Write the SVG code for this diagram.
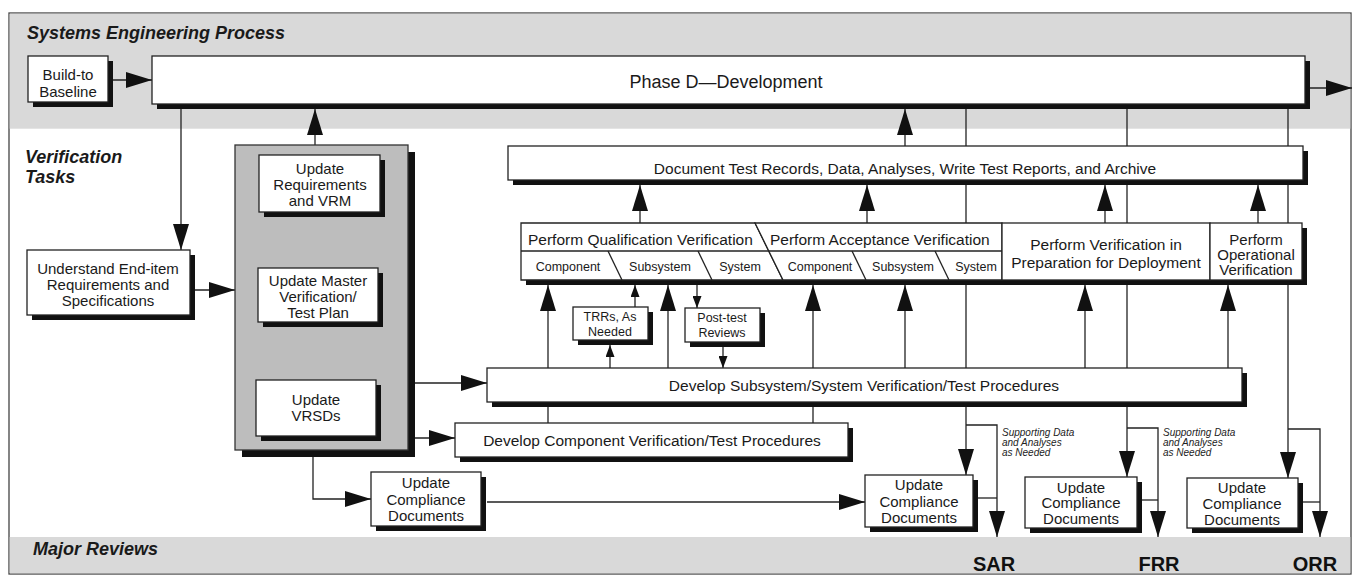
<svg xmlns="http://www.w3.org/2000/svg" width="1357" height="577" viewBox="0 0 1357 577">
<defs>
<marker id="big" markerUnits="userSpaceOnUse" markerWidth="26" markerHeight="16" refX="26" refY="8" orient="auto"><path d="M0,0 L26,8 L0,16 z" fill="#111"/></marker>
<marker id="sm" markerUnits="userSpaceOnUse" markerWidth="12" markerHeight="9" refX="12" refY="4.5" orient="auto-start-reverse"><path d="M0,0 L12,4.5 L0,9 z" fill="#111"/></marker>
<style>
.ln{fill:none;stroke:#222;stroke-width:1.3}
.ar{marker-end:url(#big)}
.as{marker-end:url(#sm)}
.ad{marker-start:url(#sm);marker-end:url(#sm)}
.bx{fill:#fff;stroke:#222;stroke-width:1.3}
.sh{fill:#111}
.t{font-family:"Liberation Sans",Arial,Helvetica,sans-serif;font-size:15px;fill:#1a1a1a;text-anchor:middle}
.m{font-size:15.5px}
.s{font-size:12.5px}
.st{text-anchor:start}
.h{font-family:"Liberation Sans",Arial,sans-serif;font-weight:bold;font-style:italic;font-size:18px;fill:#1a1a1a}
.it{font-family:"Liberation Sans",Arial,sans-serif;font-style:italic;font-size:10px;fill:#222}
.vp{font-family:"Liberation Sans",Arial,sans-serif;font-style:italic;font-size:12px;fill:#222;text-anchor:end}
.rv{font-family:"Liberation Sans",Arial,sans-serif;font-weight:bold;font-size:20px;fill:#111;text-anchor:middle}
</style>
</defs>
<rect x="0" y="0" width="1357" height="577" fill="#fff"/>
<g id="frame">
<rect x="9" y="13" width="1342" height="561" fill="#fff" stroke="#444" stroke-width="1.3"/>
<rect x="9.7" y="13.7" width="1340.6" height="115" fill="#d9d9d9"/>
<rect x="9.7" y="537" width="1340.6" height="36.3" fill="#d9d9d9"/>
<text class="h" x="27" y="39">Systems Engineering Process</text>
<text class="h" x="25" y="163">Verification</text>
<text class="h" x="25" y="183">Tasks</text>
<text class="h" x="33" y="555">Major Reviews</text>
</g>
<g id="connectors">
<path class="ln ar" d="M113,80 H152"/>
<path class="ln ar" d="M1310,88 H1352"/>
<path class="ln ar" d="M181,109 V250"/>
<path class="ln ar" d="M315,145 V109"/>
<path class="ln ar" d="M195,290 H235"/>
<path class="ln ad" d="M313,217 V268"/>
<path class="ln ad" d="M313,327 V380"/>
<path class="ln ar" d="M415,383 H487"/>
<path class="ln ar" d="M415,438 H455"/>
<path class="ln ar" d="M313,457 V499 H371"/>
<path class="ln ar" d="M487,502 H865"/>
<path class="ln ar" d="M905,146 V109"/>
<path class="ln ar" d="M640,223 V185"/>
<path class="ln ar" d="M867,223 V185"/>
<path class="ln ar" d="M1105,223 V185"/>
<path class="ln ar" d="M1258,223 V185"/>
<path class="ln ar" d="M548,423 V285"/>
<path class="ln ar" d="M668,368 V285"/>
<path class="ln ar" d="M813,423 V285"/>
<path class="ln ar" d="M905,368 V285"/>
<path class="ln ar" d="M1085,368 V285"/>
<path class="ln ar" d="M1228,368 V285"/>
<path class="ln as" d="M635,307 V285"/>
<path class="ln as" d="M610,368 V345"/>
<path class="ln as" d="M697,285 V308"/>
<path class="ln as" d="M723,347 V368"/>
<path class="ln ar" d="M966,109 V475"/>
<path class="ln ar" d="M1127,109 V477"/>
<path class="ln ar" d="M1288,109 V478"/>
<path class="ln ar" d="M966,425 H997 V537"/>
<path class="ln ar" d="M1127,428 H1158 V537"/>
<path class="ln ar" d="M1288,429 H1320 V537"/>
<path class="ln" d="M978,498 H997"/>
<path class="ln" d="M1142,500 H1158"/>
<path class="ln" d="M1303,502 H1320"/>
<text class="it" x="1002" y="436">Supporting Data</text>
<text class="it" x="1002" y="446">and Analyses</text>
<text class="it" x="1002" y="456">as Needed</text>
<text class="it" x="1163" y="436">Supporting Data</text>
<text class="it" x="1163" y="446">and Analyses</text>
<text class="it" x="1163" y="456">as Needed</text>
<text class="vp" x="306" y="240">Verification</text>
<text class="vp" x="306" y="253">Planning</text>
</g>
<g id="build-to-baseline">
<rect class="sh" x="33" y="61" width="80" height="46"/>
<rect class="bx" x="28" y="56" width="80" height="46"/>
<text class="t" x="68" y="80">Build-to</text>
<text class="t" x="68" y="97">Baseline</text>
</g>
<g id="phase-d">
<rect class="sh" x="157" y="61" width="1153" height="48"/>
<rect class="bx" x="152" y="56" width="1153" height="48"/>
<text class="t" x="726" y="88" style="font-size:18px">Phase D—Development</text>
</g>
<g id="document-test-records">
<rect class="sh" x="513" y="151" width="795" height="34"/>
<rect class="bx" x="508" y="146" width="795" height="34"/>
<text class="t m" x="905" y="174">Document Test Records, Data, Analyses, Write Test Reports, and Archive</text>
</g>
<g id="understand-end-item">
<rect class="sh" x="32" y="255" width="163" height="65"/>
<rect class="bx" x="27" y="250" width="163" height="65"/>
<text class="t" x="108" y="274">Understand End-item</text>
<text class="t" x="108" y="290">Requirements and</text>
<text class="t" x="108" y="306">Specifications</text>
</g>
<g id="verification-planning">
<rect class="sh" x="242" y="152" width="173" height="305"/>
<rect x="235" y="145" width="173" height="305" fill="#bdbdbd" stroke="#333" stroke-width="1.3"/>
</g>
<g id="update-requirements-vrm">
<rect class="sh" x="264" y="160" width="121" height="57"/>
<rect class="bx" x="259" y="155" width="121" height="57"/>
<text class="t" x="320" y="174">Update</text>
<text class="t" x="320" y="190">Requirements</text>
<text class="t" x="320" y="206">and VRM</text>
</g>
<g id="update-master-plan">
<rect class="sh" x="263" y="273" width="120" height="54"/>
<rect class="bx" x="258" y="268" width="120" height="54"/>
<text class="t" x="318" y="286">Update Master</text>
<text class="t" x="318" y="302">Verification/</text>
<text class="t" x="318" y="318">Test Plan</text>
</g>
<g id="update-vrsds">
<rect class="sh" x="261" y="385" width="120" height="56"/>
<rect class="bx" x="256" y="380" width="120" height="56"/>
<text class="t" x="316" y="405">Update</text>
<text class="t" x="316" y="421">VRSDs</text>
</g>
<g id="row-shadow">
<rect class="sh" x="526" y="228" width="781" height="57"/>
</g>
<g id="perform-qualification">
<polygon class="bx" points="521,223 755,223 783,280 521,280"/>
<line class="ln" x1="521" y1="251" x2="769" y2="251"/>
<line class="ln" x1="608" y1="251" x2="622" y2="280"/>
<line class="ln" x1="698" y1="251" x2="712" y2="280"/>
<text class="t m st" x="528" y="245">Perform Qualification Verification</text>
<text class="t s" x="568" y="271">Component</text>
<text class="t s" x="660" y="271">Subsystem</text>
<text class="t s" x="740" y="271">System</text>
</g>
<g id="perform-acceptance">
<polygon class="bx" points="755,223 1002,223 1002,280 783,280"/>
<line class="ln" x1="769" y1="251" x2="1002" y2="251"/>
<line class="ln" x1="852" y1="251" x2="866" y2="280"/>
<line class="ln" x1="935" y1="251" x2="949" y2="280"/>
<text class="t m st" x="770" y="245">Perform Acceptance Verification</text>
<text class="t s" x="820" y="271">Component</text>
<text class="t s" x="903" y="271">Subsystem</text>
<text class="t s" x="976" y="271">System</text>
</g>
<g id="perform-deployment">
<rect class="bx" x="1002" y="223" width="208" height="57"/>
<text class="t m" x="1106" y="250">Perform Verification in</text>
<text class="t m" x="1106" y="268">Preparation for Deployment</text>
</g>
<g id="perform-operational">
<rect class="bx" x="1210" y="223" width="92" height="57"/>
<text class="t" x="1256" y="245">Perform</text>
<text class="t" x="1256" y="260">Operational</text>
<text class="t" x="1256" y="275">Verification</text>
</g>
<g id="trrs">
<rect class="sh" x="578" y="312" width="75" height="33"/>
<rect class="bx" x="573" y="307" width="75" height="33"/>
<text class="t s" x="610" y="321">TRRs, As</text>
<text class="t s" x="610" y="336">Needed</text>
</g>
<g id="post-test-reviews">
<rect class="sh" x="690" y="313" width="75" height="34"/>
<rect class="bx" x="685" y="308" width="75" height="34"/>
<text class="t s" x="722" y="322">Post-test</text>
<text class="t s" x="722" y="337">Reviews</text>
</g>
<g id="develop-subsystem-system">
<rect class="sh" x="492" y="373" width="755" height="34"/>
<rect class="bx" x="487" y="368" width="755" height="34"/>
<text class="t m" x="864" y="391">Develop Subsystem/System Verification/Test Procedures</text>
</g>
<g id="develop-component">
<rect class="sh" x="460" y="428" width="393" height="34"/>
<rect class="bx" x="455" y="423" width="393" height="34"/>
<text class="t m" x="652" y="446">Develop Component Verification/Test Procedures</text>
</g>
<g id="compliance-1">
<rect class="sh" x="376" y="477" width="110" height="54"/>
<rect class="bx" x="371" y="472" width="110" height="54"/>
<text class="t" x="426" y="488">Update</text>
<text class="t" x="426" y="505">Compliance</text>
<text class="t" x="426" y="521">Documents</text>
</g>
<g id="compliance-sar">
<rect class="sh" x="870" y="480" width="108" height="52"/>
<rect class="bx" x="865" y="475" width="108" height="52"/>
<text class="t" x="919" y="490">Update</text>
<text class="t" x="919" y="507">Compliance</text>
<text class="t" x="919" y="523">Documents</text>
</g>
<g id="compliance-frr">
<rect class="sh" x="1030" y="482" width="112" height="51"/>
<rect class="bx" x="1025" y="477" width="112" height="51"/>
<text class="t" x="1081" y="493">Update</text>
<text class="t" x="1081" y="508">Compliance</text>
<text class="t" x="1081" y="524">Documents</text>
</g>
<g id="compliance-orr">
<rect class="sh" x="1192" y="483" width="111" height="50"/>
<rect class="bx" x="1187" y="478" width="111" height="50"/>
<text class="t" x="1242" y="493">Update</text>
<text class="t" x="1242" y="509">Compliance</text>
<text class="t" x="1242" y="525">Documents</text>
</g>
<g id="reviews">
<text class="rv" x="994" y="571">SAR</text>
<text class="rv" x="1159" y="571">FRR</text>
<text class="rv" x="1315" y="571">ORR</text>
</g>
</svg>
